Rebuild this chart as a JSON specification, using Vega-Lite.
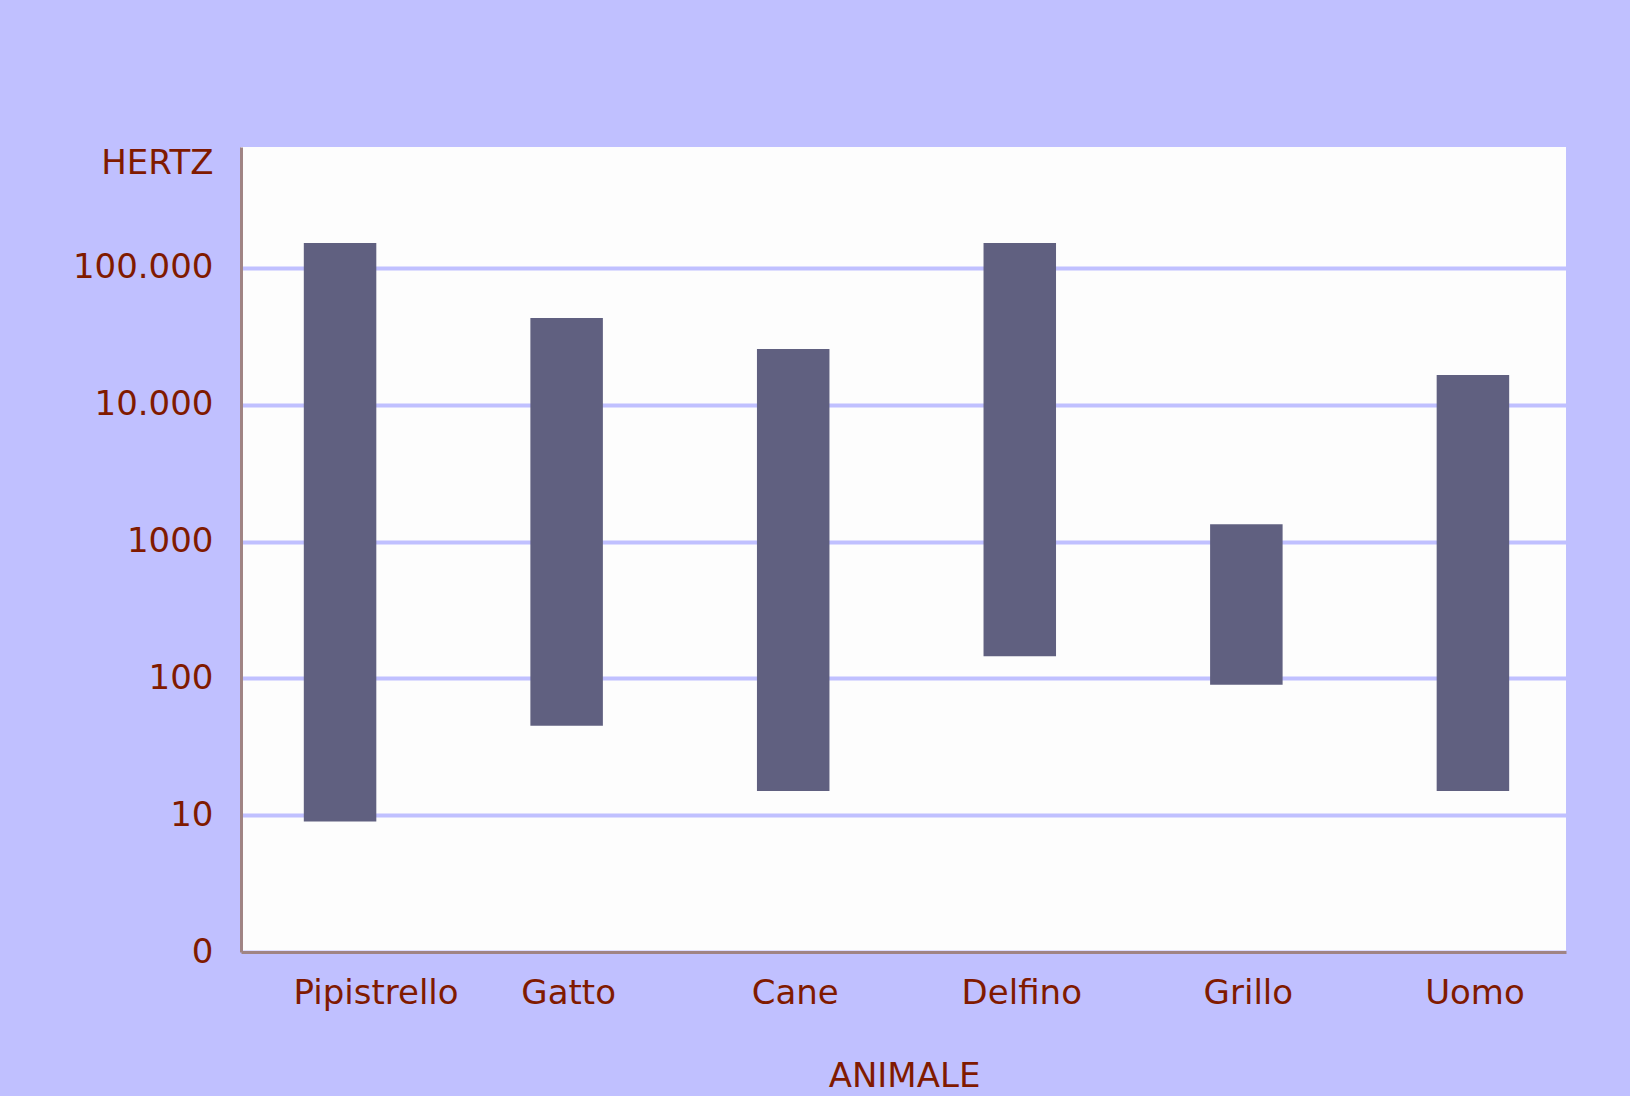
{
  "$schema": "https://vega.github.io/schema/vega-lite/v6.json",
  "autosize": {"type": "none"},
  "padding": {"left": 241, "top": 147, "right": 64, "bottom": 144},
  "width": 1325,
  "height": 805,
  "background": "#C0C0FF",
  "data": {
    "values": [
      {"animale": "Pipistrello", "min": 9, "max": 152000},
      {"animale": "Gatto", "min": 45, "max": 43000},
      {"animale": "Cane", "min": 15, "max": 25600},
      {"animale": "Delfino", "min": 145, "max": 152000},
      {"animale": "Grillo", "min": 90, "max": 1340},
      {"animale": "Uomo", "min": 15, "max": 16500}
    ]
  },
  "mark": {"type": "bar", "color": "#606080"},
  "encoding": {
    "x": {
      "field": "animale",
      "type": "nominal",
      "sort": null,
      "scale": {"paddingInner": 0.68, "paddingOuter": 0.264, "align": 0.525},
      "axis": {
        "title": "ANIMALE",
        "labelAngle": 0,
        "ticks": false,
        "tickSize": 0,
        "labelPadding": 24,
        "labelOffset": {"condition": {"test": "datum.value === 'Pipistrello'", "value": 36}, "value": 2},
        "titleY": 134,
        "titleX": 663,
        "titleAlign": "center",
        "titleBaseline": "alphabetic"
      }
    },
    "y": {
      "field": "min",
      "type": "quantitative",
      "scale": {"type": "log", "domain": [1, 766000], "nice": false, "zero": false},
      "axis": {
        "title": "HERTZ",
        "values": [1, 10, 100, 1000, 10000, 100000],
        "labelExpr": "datum.value == 1 ? '0' : (datum.value < 10000 ? format(datum.value, 'd') : format(datum.value, ',d'))",
        "ticks": false,
        "tickSize": 0,
        "labelPadding": 28,
        "grid": true,
        "gridColor": "#C0C0FF",
        "gridWidth": 4,
        "titleAngle": 0,
        "titleAlign": "right",
        "titleBaseline": "middle",
        "titleX": -28,
        "titleY": 16.5
      }
    },
    "y2": {"field": "max"}
  },
  "config": {
    "locale": {
      "number": {"decimal": ",", "thousands": ".", "grouping": [3], "currency": ["€", ""]}
    },
    "view": {"fill": "#FDFDFD", "stroke": null},
    "axis": {
      "domainColor": "#A08484",
      "domainWidth": 3,
      "labelColor": "#801A00",
      "titleColor": "#801A00",
      "labelFont": "DejaVu Sans",
      "titleFont": "DejaVu Sans",
      "labelFontSize": 34,
      "titleFontSize": 34,
      "titleFontWeight": "normal"
    }
  }
}
